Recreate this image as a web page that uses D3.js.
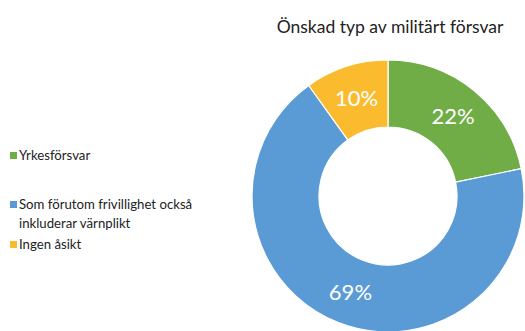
<!DOCTYPE html>
<html>
<head>
<meta charset="utf-8">
<script src="https://cdn.jsdelivr.net/npm/d3@7"></script>
<style>
  body { margin: 0; background: #fff; }
  text { font-family: Lato, "Open Sans", sans-serif; }
</style>
</head>
<body>
<div id="root"></div>
<script>
// data
const categories = ["Yrkesförsvar", "Som förutom frivillighet också inkluderar värnplikt", "Ingen åsikt"];
const legendLines = [["Yrkesförsvar"], ["Som förutom frivillighet också", "inkluderar värnplikt"], ["Ingen åsikt"]];
const values = [22, 69, 10];
const labels = ["22%", "69%", "10%"];
const colors = ["#70AD47", "#5B9BD5", "#FABC2E"];
const title = "Önskad typ av militärt försvar";

const w = 525, h = 331;
const cx = 388, cy = 196, outerR = 136, innerR = 69;

const svg = d3.select("#root").append("svg")
  .attr("width", w).attr("height", h);

svg.append("text")
  .attr("x", 390).attr("y", 33)
  .attr("text-anchor", "middle")
  .attr("font-size", 17.5)
  .attr("fill", "#222")
  .text(title);

const pie = d3.pie().sort(null).value(d => d);
const arcs = pie(values);
const arc = d3.arc().innerRadius(innerR).outerRadius(outerR);
const labelArc = d3.arc().innerRadius(103).outerRadius(103);

const g = svg.append("g").attr("transform", "translate(" + cx + "," + cy + ")");

g.selectAll("path")
  .data(arcs)
  .enter().append("path")
  .attr("d", arc)
  .attr("fill", (d, i) => colors[i])
  .attr("stroke", "#fff")
  .attr("stroke-width", 1.2);

g.selectAll(".lbl")
  .data(arcs)
  .enter().append("text")
  .attr("class", "lbl")
  .attr("transform", d => "translate(" + labelArc.centroid(d) + ")")
  .attr("text-anchor", "middle")
  .attr("dy", "0.36em")
  .attr("font-size", 22)
  .attr("fill", "#fff")
  .text((d, i) => labels[i]);

// legend
const legendY = [160, 209, 249];
const leg = svg.append("g");
legendLines.forEach((lines, i) => {
  leg.append("rect")
    .attr("x", 10).attr("y", legendY[i] - 8)
    .attr("width", 7).attr("height", 7)
    .attr("fill", colors[i]);
  const t = leg.append("text")
    .attr("x", 19).attr("y", legendY[i])
    .attr("font-size", 13.2)
    .attr("fill", "#222");
  lines.forEach((line, j) => {
    t.append("tspan").attr("x", 19).attr("dy", j === 0 ? 0 : 19).text(line);
  });
});
</script>
</body>
</html>
